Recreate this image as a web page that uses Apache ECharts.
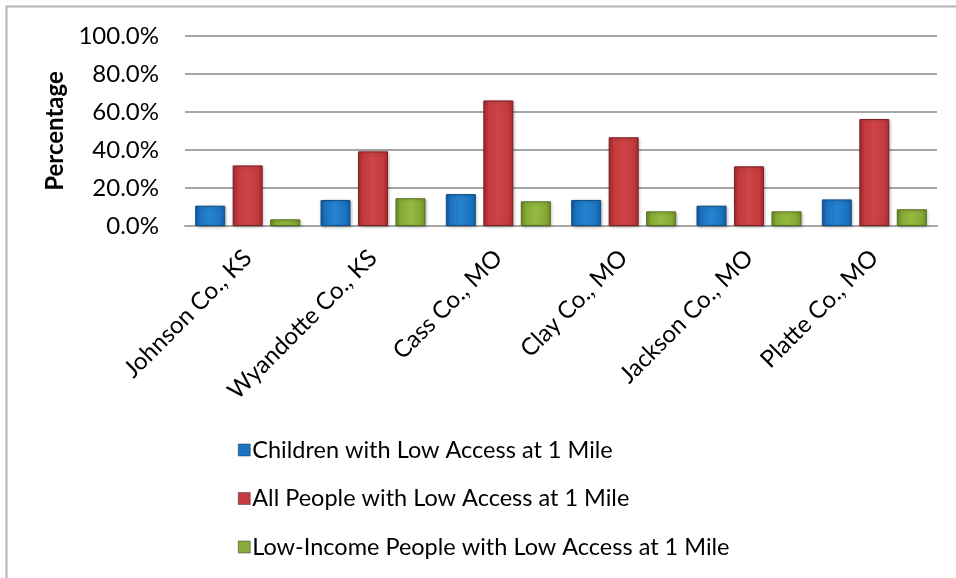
<!DOCTYPE html>
<html>
<head>
<meta charset="utf-8">
<script src="https://cdn.jsdelivr.net/npm/echarts@6/dist/echarts.min.js"></script>
<style>
  html, body { margin: 0; padding: 0; background: #ffffff; }
  #chart { width: 956px; height: 578px; }
</style>
</head>
<body>
<div id="chart"></div>
<script>
// County names along the category axis
var counties = ['Johnson Co., KS', 'Wyandotte Co., KS', 'Cass Co., MO', 'Clay Co., MO', 'Jackson Co., MO', 'Platte Co., MO'];

// Share of each population group with low food access at 1 mile (percent)
var childrenLowAccess = [10.7, 13.7, 16.8, 13.7, 10.7, 14.0];
var allPeopleLowAccess = [31.9, 39.3, 66.1, 46.7, 31.4, 56.3];
var lowIncomeLowAccess = [3.5, 14.6, 13.0, 7.7, 7.7, 8.8];

var seriesNames = [
  'Children with Low Access at 1 Mile',
  'All People with Low Access at 1 Mile',
  'Low-Income People with Low Access at 1 Mile'
];

var yTicks = [0, 20, 40, 60, 80, 100];

var FONT = 'Lato, "Open Sans", sans-serif';

// Bevelled look: darker edges, lighter core
function bevel(dark, mid, light, border) {
  return {
    color: new echarts.graphic.LinearGradient(0, 0, 1, 0, [
      { offset: 0, color: dark },
      { offset: 0.18, color: mid },
      { offset: 0.5, color: light },
      { offset: 0.82, color: mid },
      { offset: 1, color: dark }
    ]),
    borderColor: border,
    borderWidth: 1,
    shadowColor: 'rgba(0,0,0,0.25)',
    shadowBlur: 3,
    shadowOffsetX: 1,
    shadowOffsetY: 1
  };
}

var styles = [
  bevel('#155f9f', '#1b74c2', '#2683cf', '#0f4f86'),
  bevel('#a72c30', '#c43a3e', '#cd4446', '#7e1f22'),
  bevel('#6f8f29', '#86ab36', '#95b93f', '#55701d')
];
var legendIcons = ['#1b74c2', '#c43a3e', '#86ab36'];

var chart = echarts.init(document.getElementById('chart'), null, { renderer: 'canvas' });

chart.setOption({
  backgroundColor: '#ffffff',
  animation: false,
  graphic: [{
    type: 'rect',
    shape: { x: 6.5, y: 6.5, width: 1000, height: 1000 },
    style: { fill: 'none', stroke: '#b3b3b3', lineWidth: 2 },
    silent: true
  }],
  grid: { left: 185, right: 19, top: 36, height: 190, containLabel: false },
  legend: {
    orient: 'vertical',
    left: 233,
    top: 433,
    itemWidth: 12,
    itemHeight: 12,
    itemGap: 24.5,
    icon: 'rect',
    textStyle: { fontFamily: FONT, fontSize: 23.5, color: '#000000', padding: [0, 0, 0, -3] },
    data: seriesNames.map(function (n, i) {
      return { name: n, itemStyle: { color: legendIcons[i], borderColor: '#333', borderWidth: 0.5 } };
    })
  },
  xAxis: {
    type: 'category',
    data: counties,
    axisLine: { show: true, lineStyle: { color: '#a6a6a6', width: 2 } },
    axisTick: { show: false },
    axisLabel: {
      rotate: 45,
      interval: 0,
      margin: 28,
      fontFamily: FONT,
      fontSize: 24,
      color: '#000000'
    }
  },
  yAxis: {
    type: 'value',
    min: 0,
    max: 100,
    interval: 20,
    name: 'Percentage',
    nameLocation: 'middle',
    nameGap: 118,
    nameTextStyle: { fontFamily: FONT, fontSize: 24, fontWeight: 'bold', color: '#000000' },
    axisLine: { show: false },
    axisTick: { show: false },
    splitLine: { lineStyle: { color: '#a6a6a6', width: 2 } },
    axisLabel: {
      margin: 26,
      fontFamily: FONT,
      fontSize: 24,
      color: '#000000',
      formatter: function (v) { return yTicks.indexOf(v) >= 0 ? v.toFixed(1) + '%' : ''; }
    }
  },
  series: [childrenLowAccess, allPeopleLowAccess, lowIncomeLowAccess].map(function (vals, i) {
    return {
      name: seriesNames[i],
      type: 'bar',
      data: vals,
      barWidth: 30,
      barGap: '25%',
      itemStyle: styles[i]
    };
  })
});
</script>
</body>
</html>
